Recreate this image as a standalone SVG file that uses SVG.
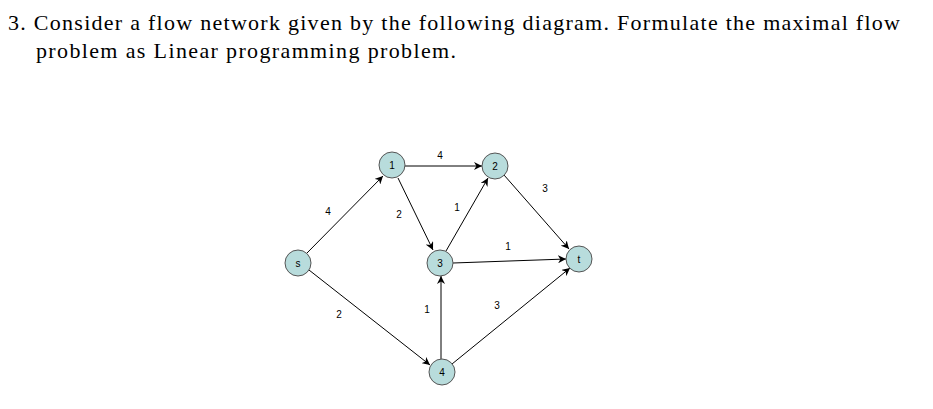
<svg xmlns="http://www.w3.org/2000/svg" width="933" height="409" viewBox="0 0 933 409">
<style>
.t{font-family:"Liberation Serif",serif;font-size:22px;fill:#000}
.n circle{fill:#b8dcdc;stroke:#555;stroke-width:1}
.n text,.l{font-family:"Liberation Sans",Arial,sans-serif;font-size:10px;fill:#000;text-anchor:middle}
.e line{stroke:#000;stroke-width:1;marker-end:url(#a)}
</style>
<defs><marker id="a" viewBox="0 0 10 10" refX="10" refY="5" markerWidth="8" markerHeight="8" orient="auto" markerUnits="userSpaceOnUse"><path d="M0,0L10,5L0,10L3,5z" fill="#000"/></marker></defs>
<rect width="933" height="409" fill="#fff"/>
<text class="t" x="8" y="30" textLength="892" lengthAdjust="spacing">3. Consider a flow network given by the following diagram. Formulate the maximal flow</text>
<text class="t" x="36" y="58" textLength="420" lengthAdjust="spacing">problem as Linear programming problem.</text>
<g class="e">
<line x1="307" y1="253" x2="383" y2="176"/>
<line x1="405" y1="166" x2="482" y2="166"/>
<line x1="398" y1="178" x2="433" y2="250"/>
<line x1="446" y1="251" x2="488" y2="178"/>
<line x1="504" y1="175" x2="569" y2="249"/>
<line x1="453" y1="263" x2="566" y2="259"/>
<line x1="309" y1="270" x2="430" y2="365"/>
<line x1="441" y1="359" x2="441" y2="276"/>
<line x1="452" y1="364" x2="570" y2="268"/>
</g>
<g class="l">
<text class="l" x="328" y="215">4</text>
<text class="l" x="399" y="218">2</text>
<text class="l" x="440" y="159">4</text>
<text class="l" x="457" y="211">1</text>
<text class="l" x="545" y="192">3</text>
<text class="l" x="508" y="250">1</text>
<text class="l" x="339" y="318">2</text>
<text class="l" x="427" y="313">1</text>
<text class="l" x="497" y="309">3</text>
</g>
<g id="s" class="n"><circle cx="298" cy="263" r="13"/><text x="298" y="267">s</text></g>
<g id="n1" class="n"><circle cx="392" cy="165" r="13"/><text x="392" y="169">1</text></g>
<g id="n2" class="n"><circle cx="495" cy="166" r="13"/><text x="495" y="170">2</text></g>
<g id="n3" class="n"><circle cx="440" cy="263" r="13"/><text x="440" y="267">3</text></g>
<g id="t" class="n"><circle cx="579" cy="259" r="13"/><text x="579" y="263">t</text></g>
<g id="n4" class="n"><circle cx="442" cy="372" r="13"/><text x="442" y="376">4</text></g>
</svg>
